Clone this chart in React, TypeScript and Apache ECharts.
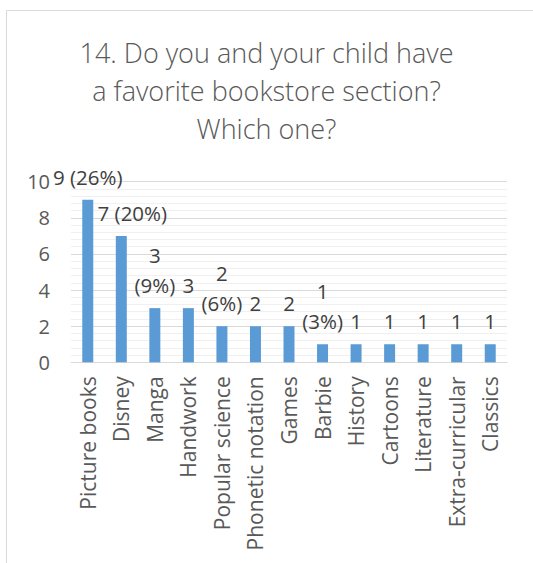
import React, { useEffect, useRef } from "react";
import * as echarts from "echarts";

const titleLines = ["14. Do you and your child have", "a favorite bookstore section?", "Which one?"];
const categories = [
  "Picture books", "Disney", "Manga", "Handwork", "Popular science", "Phonetic notation",
  "Games", "Barbie", "History", "Cartoons", "Literature", "Extra-curricular", "Classics",
];
const counts = [9, 7, 3, 3, 2, 2, 2, 1, 1, 1, 1, 1, 1];
const labelTexts = ["9 (26%)", "7 (20%)", "3\n(9%)", "3", "2\n(6%)", "2", "2", "1\n(3%)", "1", "1", "1", "1", "1"];
const yTicks = { min: 0, max: 10, interval: 2 };

const FONT = "'Open Sans', sans-serif";

export default function App() {
  const ref = useRef<HTMLDivElement>(null);
  useEffect(() => {
    if (!ref.current) return;
    const chart = echarts.init(ref.current, null, { renderer: "svg" });
    chart.setOption({
      animation: false,
      backgroundColor: "#ffffff",
      graphic: [
        {
          type: "rect",
          shape: { x: 6.5, y: 10.5, width: 700, height: 700 },
          style: { fill: "none", stroke: "#d9d9d9", lineWidth: 1 },
          silent: true,
        },
      ],
      title: {
        text: titleLines.join("\n"),
        left: "center",
        top: 33,
        padding: 0,
        textStyle: { fontFamily: FONT, fontSize: 27, fontWeight: 300, color: "#595959", lineHeight: 38 },
      },
      grid: { left: 71, right: 26, top: 181.7, bottom: 200.7, containLabel: false },
      xAxis: {
        type: "category",
        data: categories,
        axisLine: { lineStyle: { color: "#d9d9d9" } },
        axisTick: { show: false },
        axisLabel: { rotate: 90, margin: 14, fontFamily: FONT, fontSize: 21, color: "#595959", interval: 0 },
      },
      yAxis: {
        type: "value",
        min: yTicks.min,
        max: yTicks.max,
        interval: yTicks.interval,
        axisLine: { show: false },
        axisTick: { show: false },
        axisLabel: { margin: 21, fontFamily: FONT, fontSize: 20, color: "#595959" },
        splitLine: { lineStyle: { color: "#d9d9d9" } },
        minorTick: { show: false, splitNumber: 5 },
        minorSplitLine: { show: true, lineStyle: { color: "#f0f0f0" } },
      },
      series: [
        {
          type: "bar",
          data: counts.map((v, i) => ({
            value: v,
            label: {
              formatter: labelTexts[i],
              offset: i === 1 ? [11, 0] : [0, 0],
            },
          })),
          barWidth: 11,
          itemStyle: { color: "#5b9bd5" },
          label: {
            show: true,
            position: "top",
            distance: 8,
            fontFamily: FONT,
            fontSize: 20.5,
            lineHeight: 30,
            color: "#404040",
          },
        },
      ],
    });
    return () => chart.dispose();
  }, []);
  return <div ref={ref} style={{ position: "fixed", left: 0, top: 0, width: 533, height: 563 }} />;
}
